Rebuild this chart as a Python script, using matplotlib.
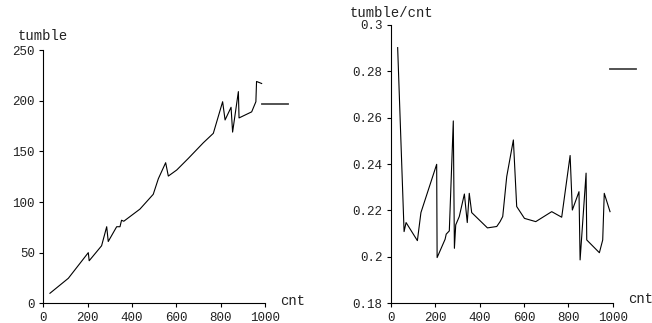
"""tumble vs cnt, and tumble/cnt vs cnt."""

import matplotlib.pyplot as plt
from matplotlib.ticker import FuncFormatter

# left panel: tumble against cnt
cnt_left = [30, 113, 203, 207, 263, 286, 293, 331, 346, 353, 363, 436, 496,
            519, 552, 564, 602, 654, 722, 767, 809, 820, 847, 854, 880, 883,
            940, 959, 962, 985]
tumble = [9.9, 24.7, 50, 42, 56.8, 75.6, 61, 75.6, 75.6, 82, 81, 93, 107.6,
          123, 138.8, 125.6, 131.6, 143, 158.5, 167.8, 199, 181, 193.5, 169,
          209, 183, 189, 199, 219, 217]

# right panel: tumble/cnt against cnt
cnt_right = [30, 59, 68, 119, 135, 206, 208, 244, 249, 263, 281, 286, 292,
             308, 331, 344, 353, 364, 435, 477, 492, 504, 522, 552, 567, 602,
             653, 725, 770, 808, 818, 848, 853, 880, 883, 940, 955, 962, 988]
ratio = [0.2902, 0.2109, 0.2148, 0.2070, 0.2191, 0.2399, 0.1997, 0.2076,
         0.2098, 0.2112, 0.2586, 0.2037, 0.2138, 0.2174, 0.2271, 0.2148,
         0.2274, 0.2191, 0.2125, 0.2131, 0.2152, 0.2174, 0.2346, 0.2504,
         0.2217, 0.2166, 0.2152, 0.2195, 0.2171, 0.2437, 0.2202, 0.2281,
         0.1987, 0.2361, 0.2073, 0.2018, 0.2073, 0.2274, 0.2195]

x_ticks = [0, 200, 400, 600, 800, 1000]
left_yticks = [0, 50, 100, 150, 200, 250]
right_yticks = [0.18, 0.2, 0.22, 0.24, 0.26, 0.28, 0.3]

plt.rcParams["font.family"] = ["Liberation Mono", "DejaVu Sans Mono"]
txt = "#222222"

fig = plt.figure(figsize=(6.52, 3.23), dpi=100)
ax1 = fig.add_axes([0.0664, 0.061, 0.340, 0.784])
ax2 = fig.add_axes([0.5997, 0.061, 0.340, 0.862])


def style(ax):
    for s in ("top", "right"):
        ax.spines[s].set_visible(False)
    for s in ("left", "bottom"):
        ax.spines[s].set_linewidth(0.8)
    ax.tick_params(direction="out", length=3, width=0.8, pad=3,
                   labelsize=9, labelcolor=txt)
    ax.set_xlim(0, 1000)
    ax.set_xticks(x_ticks)


# left
style(ax1)
line1, = ax1.plot(cnt_left, tumble, color="black", lw=0.8)
ax1.set_ylim(0, 250)
ax1.set_yticks(left_yticks)
ax1.text(-0.114, 1.055, "tumble", transform=ax1.transAxes, ha="left",
         va="center", fontsize=10, color=txt)
ax1.text(1.068, 0.01, "cnt", transform=ax1.transAxes, ha="left",
         va="center", fontsize=10, color=txt)
key1 = plt.Line2D([], [], color="#444444", lw=1.3)
ax1.legend([key1], [" "], loc="center left", bbox_to_anchor=(0.986, 0.783),
           frameon=False, borderpad=0, borderaxespad=0, handletextpad=0,
           handlelength=2.1, fontsize=9)

# right
style(ax2)
ax2.plot(cnt_right, ratio, color="black", lw=0.8)
ax2.set_ylim(0.18, 0.3)
ax2.set_yticks(right_yticks)
ax2.yaxis.set_major_formatter(FuncFormatter(lambda v, p: "%g" % v))
ax2.text(-0.185, 1.043, "tumble/cnt", transform=ax2.transAxes, ha="left",
         va="center", fontsize=10, color=txt)
ax2.text(1.070, 0.015, "cnt", transform=ax2.transAxes, ha="left",
         va="center", fontsize=10, color=txt)
key2 = plt.Line2D([], [], color="#444444", lw=1.3)
ax2.legend([key2], [" "], loc="center left", bbox_to_anchor=(0.988, 0.836),
           frameon=False, borderpad=0, borderaxespad=0, handletextpad=0,
           handlelength=2.1, fontsize=9)

fig.savefig("out.png", dpi=100)
